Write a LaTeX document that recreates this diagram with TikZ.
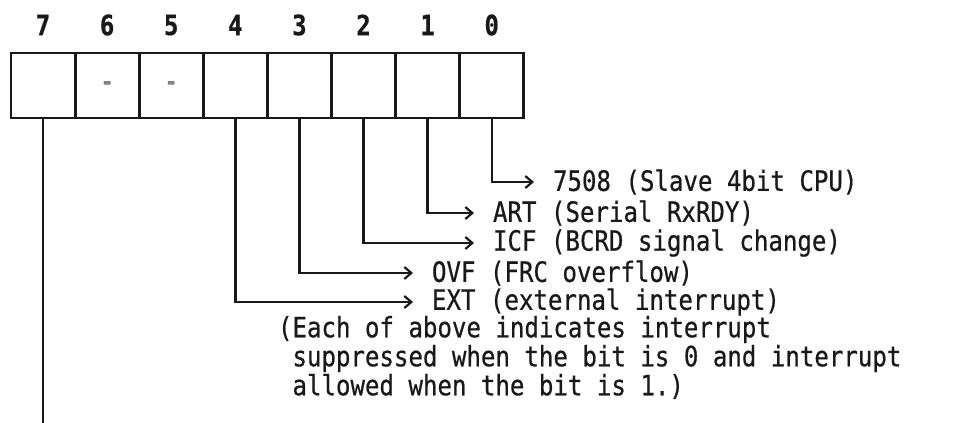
\documentclass[tikz,border=0pt]{standalone}
\usepackage{fontspec}
\setmonofont[FakeStretch=0.86, FakeBold=0.6]{DejaVu Sans Mono}
\usetikzlibrary{arrows.meta,positioning}
\definecolor{inkgray}{RGB}{25,25,25}
\definecolor{dashgray}{RGB}{130,130,130}

\begin{document}
\begin{tikzpicture}[x=1pt, y=-1pt,
  cell/.style={draw=inkgray, line width=2.8pt, minimum width=64pt, minimum height=65pt, inner sep=0pt},
  bitnum/.style={font=\fontsize{28}{28}\selectfont\ttfamily\bfseries, text=inkgray},
  lbl/.style={anchor=west, inner sep=0pt, outer xsep=19pt, font=\fontsize{28}{29}\selectfont\ttfamily, text=inkgray},
  wire/.style={draw=inkgray, line width=2.4pt},
  lead/.style={wire, -{Straight Barb[length=7pt, width=12pt, line width=2.2pt]}}
]
\useasboundingbox (0,0) rectangle (972,423);
\foreach \b [count=\k from 0] in {7,...,0} {
  \node[cell] (b\b) at ({43+64.1*\k},85.5) {};
  \node[bitnum] (n\b) at ({43+64.1*\k},25) {\b};
}
\node[text=dashgray, font=\fontsize{24}{24}\selectfont\ttfamily\bfseries] (d6) at (b6) {-};
\node[text=dashgray, font=\fontsize{24}{24}\selectfont\ttfamily\bfseries] (d5) at (b5) {-};

\node[lbl] (t0) at (534,182) {7508 (Slave 4bit CPU)};
\node[lbl] (t1) at (474,213) {ART (Serial RxRDY)};
\node[lbl] (t2) at (474,243) {ICF (BCRD signal change)};
\node[lbl] (t3) at (413,273) {OVF (FRC overflow)};
\node[lbl] (t4) at (413,302) {EXT (external interrupt)};
\node[lbl, anchor=north west, outer sep=0pt, align=left] (note) at (278,316)
  {(Each of above indicates interrupt\\
   ~suppressed when the bit is 0 and interrupt\\
   ~allowed when the bit is 1.)};

\draw[lead] (b0.south) |- (t0.west);
\draw[lead] (b1.south) |- (t1.west);
\draw[lead] (b2.south) |- (t2.west);
\draw[lead] (b3.south) |- (t3.west);
\draw[lead] (b4.south) |- (t4.west);
\coordinate (e7) at (43,423);
\draw[wire] (b7.south) -- (e7);
\end{tikzpicture}
\end{document}
